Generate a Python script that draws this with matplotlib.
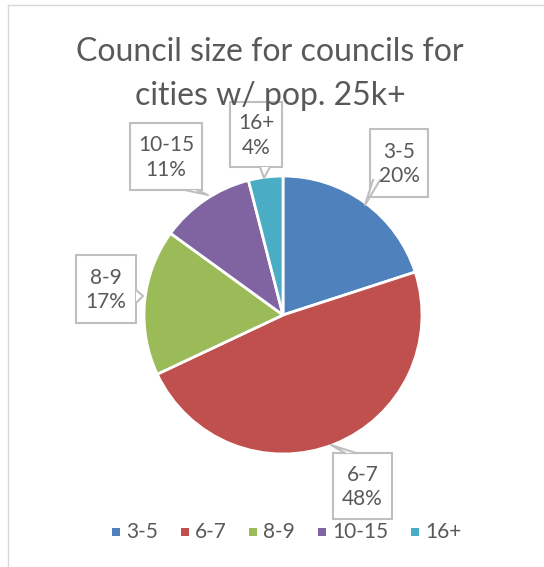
import matplotlib
matplotlib.use("Agg")
from matplotlib import pyplot as plt
from matplotlib.patches import Rectangle

plt.rcParams['font.family'] = ['Lato', 'DejaVu Sans']

# data
labels = ['3-5', '6-7', '8-9', '10-15', '16+']
shares = [20, 48, 17, 11, 4]
colors = ['#4F81BD', '#C0504D', '#9BBB59', '#8064A2', '#4BACC6']
title = 'Council size for councils for\ncities w/ pop. 25k+'

W, H = 544, 567
txt = '#595959'
edge = '#BFBFBF'

fig = plt.figure(figsize=(W / 100, H / 100), dpi=100)
ax = fig.add_axes([0, 0, 1, 1])

def Y(y):  # pixel row -> data y
    return H - y

cx, cy, r = 283, 315, 139
ax.pie(shares, colors=colors, startangle=90, counterclock=False,
       center=(cx, Y(cy)), radius=r, frame=True,
       wedgeprops=dict(edgecolor='white', linewidth=2))
ax.set_xlim(0, W)
ax.set_ylim(0, H)
ax.set_aspect('equal')
ax.axis('off')

# chart border (only left and top visible)
ax.plot([8, 8], [Y(5), Y(H)], color='#D9D9D9', lw=1)
ax.plot([8, W], [Y(5), Y(5)], color='#D9D9D9', lw=1)

# callout boxes: (x0, y0, x1, y1), pointer polyline
boxes = {
    '3-5': ((370, 129, 428, 197), [(373, 180), (365, 205), (380, 180)]),
    '6-7': ((333, 453, 392, 519), [(345, 453), (331, 445), (356, 453)]),
    '8-9': ((76, 255, 136, 323), [(136, 290), (143, 296), (136, 303)]),
    '10-15': ((130, 123, 202, 190), [(185, 190), (208, 195), (197, 190)]),
    '16+': ((230, 102, 282, 167), [(260, 167), (264, 178), (270, 167)]),
}
for lab, val in zip(labels, shares):
    (x0, y0, x1, y1), ptr = boxes[lab]
    ax.add_patch(Rectangle((x0, Y(y1)), x1 - x0, y1 - y0, facecolor='white',
                           edgecolor=edge, lw=1.5, zorder=5))
    px = [p[0] for p in ptr]
    py = [Y(p[1]) for p in ptr]
    ax.fill(px, py, facecolor='white', edgecolor='none', zorder=6)
    ax.plot(px, py, color=edge, lw=1.5, zorder=6)
    xm = (x0 + x1) / 2
    ym = (y0 + y1) / 2
    ax.text(xm, Y(ym + 1), f'{lab}\n{val}%', ha='center', va='center',
            fontsize=15, color=txt, linespacing=1.3, zorder=7)

# title drawn over the 16+ box, as in the original
ax.text(270, Y(74), title, ha='center', va='center', fontsize=23,
        color=txt, linespacing=1.6, zorder=8)

# legend
leg_x = [116, 185, 253, 322, 415]
for lx, lab, c in zip(leg_x, labels, colors):
    ax.add_patch(Rectangle((lx - 4, Y(532) - 4), 8, 8, facecolor=c,
                           edgecolor='none'))
    ax.text(lx + 10, Y(532), lab, ha='left', va='center', fontsize=15,
            color=txt)

fig.savefig('out.png', dpi=100)
